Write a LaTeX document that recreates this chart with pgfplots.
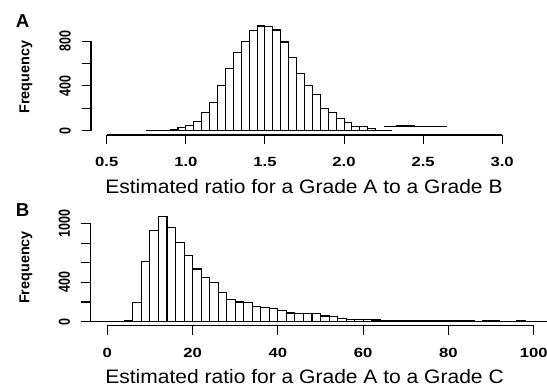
\documentclass[border=0pt]{standalone}
\usepackage{pgfplots}
\pgfplotsset{compat=1.18}
\usepackage{fontspec}
\setmainfont{Liberation Sans}
\newfontfamily\tickfont{Liberation Sans}[FakeStretch=1.25]
\newfontfamily\ytickfont{Liberation Sans}[FakeStretch=0.78]
\newfontfamily\labfont{Liberation Sans}[FakeStretch=1.08]
\begin{document}
\begin{tikzpicture}
\useasboundingbox (0,0) rectangle (410.25pt,289.5pt);
\pgfplotsset{
  rstyle/.style={
    scale only axis,
    anchor=south west,
    axis x line*=bottom, axis y line*=left,
    axis line style={draw=none},
    tick align=outside,
    major tick length=7pt,
    tick style={black, line width=0.8pt},
    clip=false,
    xticklabel style={font=\tickfont\bfseries\fontsize{10}{10}\selectfont, inner sep=0pt, anchor=north, yshift=-9.5pt},
    yticklabel style={font=\ytickfont\bfseries\fontsize{12}{12}\selectfont, rotate=90, anchor=south, inner sep=0pt},
    yticklabel shift=8pt,
  }
}
% ---------- Panel A ----------
\begin{axis}[rstyle, at={(68.25pt,188.25pt)}, width=320.25pt, height=85.35pt,
  xmin=0.4, xmax=3.1, ymin=-37.6, ymax=977.6,
  xtick={0.5,1,1.5,2,2.5,3}, xticklabels={0.5,1.0,1.5,2.0,2.5,3.0},
  ytick={0,200,400,600,800}, yticklabels={0,,400,,800}]
\addplot[ybar, bar width=0.05, fill=white, draw=black, line width=0.8pt] coordinates {
(0.775,2) (0.825,3) (0.875,5) (0.925,12) (0.975,27) (1.025,50) (1.075,80)
(1.125,160) (1.175,256) (1.225,405) (1.275,557) (1.325,700) (1.375,800)
(1.425,893) (1.475,935) (1.525,934) (1.575,899) (1.625,792) (1.675,655)
(1.725,509) (1.775,405) (1.825,324) (1.875,196) (1.925,161) (1.975,110)
(2.025,71) (2.075,36) (2.125,36) (2.175,18) (2.225,6) (2.275,5)};
\addplot[black, line width=0.8pt] coordinates {(2.25,42) (2.65,42)};
\addplot[black, line width=0.8pt] coordinates {(2.33,50) (2.45,50)};
\draw[line width=0.8pt] (axis cs:0.5,-37.6) -- (axis cs:3,-37.6);
\draw[line width=0.8pt] (axis cs:0.4,0) -- (axis cs:0.4,800);
\end{axis}
% ---------- Panel B ----------
\begin{axis}[rstyle, at={(67.65pt,45.15pt)}, width=345.5pt, height=84.3pt,
  xmin=-4, xmax=104, ymin=-42, ymax=1102,
  xtick={0,20,40,60,80,100}, xticklabels={0,20,40,60,80,100},
  ytick={0,200,400,600,800,1000}, yticklabels={0,,400,,,1000}]
\addplot[ybar, bar width=2, fill=white, draw=black, line width=0.8pt] coordinates {
(-3,0) (-1,0) (1,0) (3,1) (5,10) (7,193) (9,610) (11,929) (13,1071) (15,963)
(17,807) (19,675) (21,536) (23,451) (25,397) (27,295) (29,227) (31,200)
(33,193) (35,159) (37,145) (39,132) (41,115) (43,88) (45,85) (47,85) (49,85)
(51,58) (53,51) (55,34) (57,24) (59,20) (61,18) (63,17) (65,15) (67,16)
(69,14) (71,15) (73,12) (75,13) (77,14) (79,12) (81,13) (83,12) (85,8)
(87,6) (89,12) (91,8) (93,5) (95,4) (97,14) (99,6) (101,4) (103,3)};
\draw[line width=0.8pt] (axis cs:0,-42) -- (axis cs:100,-42);
\draw[line width=0.8pt] (axis cs:-4,0) -- (axis cs:-4,1000);
\end{axis}
% ---------- annotations ----------
\node[font=\bfseries\fontsize{14}{14}\selectfont] at (16.9pt,273.4pt) {A};
\node[font=\bfseries\fontsize{14}{14}\selectfont] at (16.9pt,132pt) {B};
\node[rotate=90, font=\bfseries\fontsize{10.8}{10.8}\selectfont] at (19.5pt,231.75pt) {Frequency};
\node[rotate=90, font=\bfseries\fontsize{10.8}{10.8}\selectfont] at (19.5pt,88.9pt) {Frequency};
\node[anchor=base west, inner sep=0pt, font=\labfont\fontsize{14.6}{14.6}\selectfont] at (78.75pt,144.5pt) {Estimated ratio for a Grade A to a Grade B};
\node[anchor=base west, inner sep=0pt, font=\labfont\fontsize{14.6}{14.6}\selectfont] at (78.75pt,2pt) {Estimated ratio for a Grade A to a Grade C};
\end{tikzpicture}
\end{document}
